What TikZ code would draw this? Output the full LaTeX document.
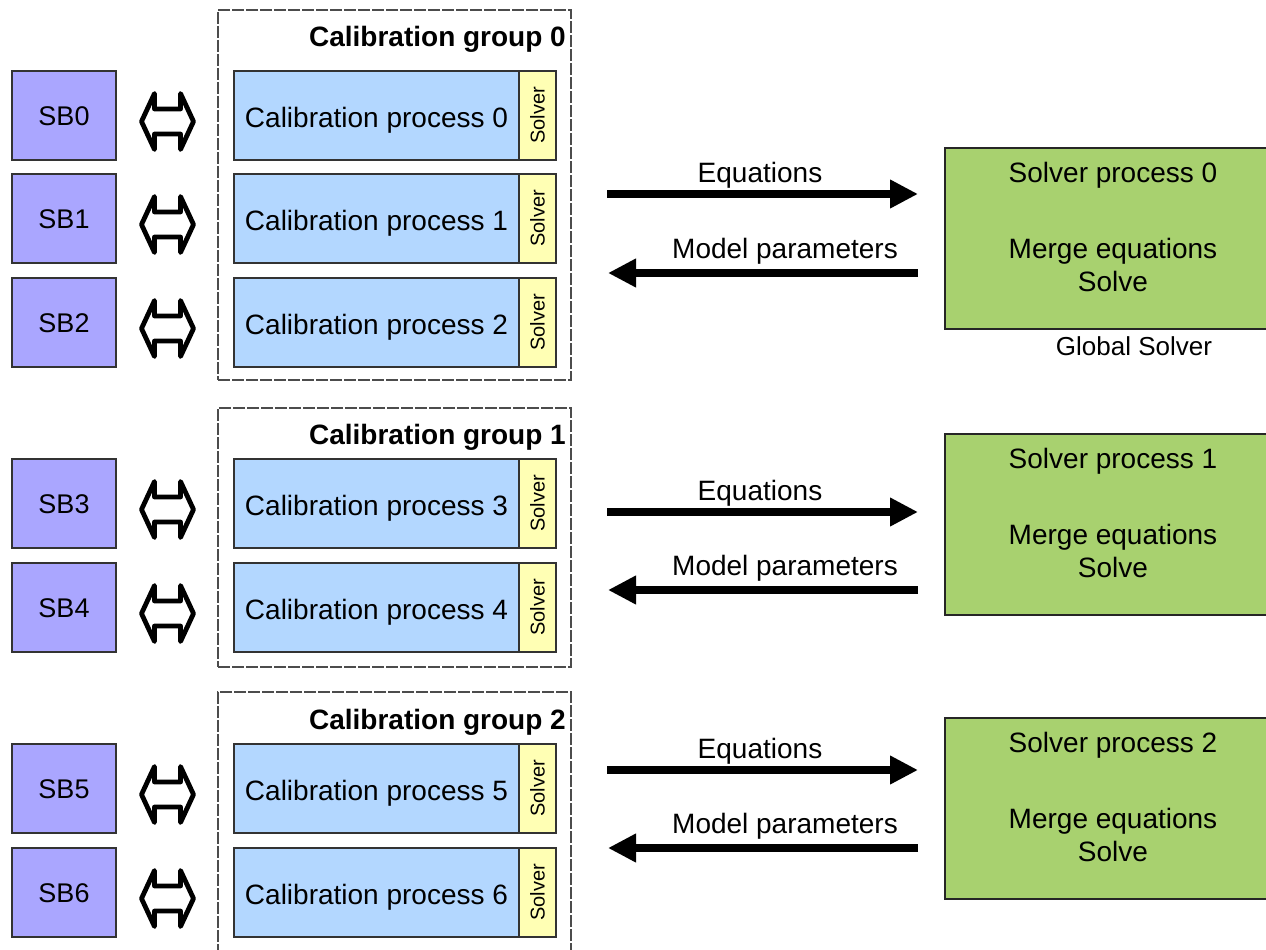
\documentclass[tikz,border=0pt]{standalone}
\usepackage{fontspec}
\usepackage{graphicx}
\setmainfont{Liberation Sans}
\usetikzlibrary{arrows.meta}

\definecolor{sbfill}{RGB}{170,166,255}
\definecolor{cpfill}{RGB}{179,215,255}
\definecolor{svfill}{RGB}{255,255,180}
\definecolor{gsfill}{RGB}{168,209,111}

\tikzset{
  sbbox/.style={draw=black!80, line width=1.2pt, fill=sbfill, minimum width=104pt,
    minimum height=89pt, inner sep=0pt, text height=20pt, text depth=0pt,
    font=\fontsize{27}{32}\selectfont},
  cpbox/.style={draw=black!80, line width=1.2pt, fill=cpfill, minimum width=285pt,
    minimum height=89pt, inner sep=0pt, text height=23pt, text depth=0pt,
    font=\fontsize{28}{34}\selectfont},
  svbox/.style={draw=black!80, line width=1.2pt, fill=svfill, minimum width=37pt,
    minimum height=89pt, inner sep=0pt, font=\fontsize{20}{24}\selectfont},
  grpbox/.style={draw=black!70, line width=1.1pt, dash pattern=on 12pt off 2pt,
    minimum width=353pt, inner sep=0pt},
  grptitle/.style={anchor=base east, font=\bfseries\fontsize{28}{34}\selectfont, inner sep=0pt},
  gsbox/.style={draw=black!85, line width=1.2pt, fill=gsfill, minimum width=340pt, inner sep=0pt},
  gstext/.style={anchor=base, font=\fontsize{28}{34}\selectfont, inner sep=0pt},
  flow/.style={line width=8.5pt, -{Triangle[length=28pt,width=27pt]}},
  flowlabel/.style={anchor=base, font=\fontsize{28}{34}\selectfont, inner sep=0pt},
  link/.style={draw=black, line width=4.8pt, line join=round, fill=white},
  dblarrow/.pic={
    \draw[link] (-26,0) -- (-13,28) -- (-13,12.5) -- (13,12.5) -- (13,28) -- (26,0)
      -- (13,-28) -- (13,-12.5) -- (-13,-12.5) -- (-13,-28) -- cycle;
  },
}

\begin{document}
\begin{tikzpicture}[x=1pt,y=-1pt]
\useasboundingbox (0,0) rectangle (1266,950);
\clip (0,0) rectangle (1266,950);

% calibration groups (dashed frames)
\node[grpbox, minimum height=370pt] (g0) at (394.5,195) {};
\node[grpbox, minimum height=259pt] (g1) at (394.5,537.5) {};
\node[grpbox, minimum height=260pt] (g2) at (394.5,822) {};
\node[grptitle] (t0) at (566,47)  {Calibration group 0};
\node[grptitle] (t1) at (566,444) {Calibration group 1};
\node[grptitle] (t2) at (566,729) {Calibration group 2};

% subbands, calibration processes and their local solvers
\foreach \i/\y in {0/115.5,1/218.5,2/322.5,3/503.5,4/607.5,5/788.5,6/892.5}{
  \node[sbbox] (sb\i) at (64,\y) {SB\i};
  \node[cpbox] (cp\i) at (376.5,\y) {Calibration process \i};
  \node[svbox] (sv\i) at (537.5,\y) {\rotatebox{90}{Solver}};
  \pic (lk\i) at (167.5,\y+6) {dblarrow};
}

% solver processes
\foreach \k/\top in {0/148,1/434,2/718}{
  \node[gsbox, minimum height=181pt] (gs\k) at (1115,\top+90.5) {};
  \node[gstext] (gsa\k) at (1113,\top+34)  {Solver process \k};
  \node[gstext] (gsb\k) at (1113,\top+110) {Merge equations};
  \node[gstext] (gsc\k) at (1113,\top+143) {Solve};
}
\node[anchor=base, font=\fontsize{26}{30}\selectfont, inner sep=0pt] (glob) at (1134,355) {Global Solver};

% equation and parameter exchange
\foreach \k/\ye/\ym in {0/194/273,1/512/590,2/770/848}{
  \coordinate (eqs\k) at (607,\ye);
  \coordinate (eqe\k) at (918,\ye);
  \coordinate (mps\k) at (918,\ym);
  \coordinate (mpe\k) at (608,\ym);
  \draw[flow] (eqs\k) -- (eqe\k);
  \draw[flow] (mps\k) -- (mpe\k);
  \node[flowlabel] (eql\k) at (760,\ye-12) {Equations};
  \node[flowlabel] (mpl\k) at (785,\ym-15) {Model parameters};
}
\end{tikzpicture}
\end{document}
